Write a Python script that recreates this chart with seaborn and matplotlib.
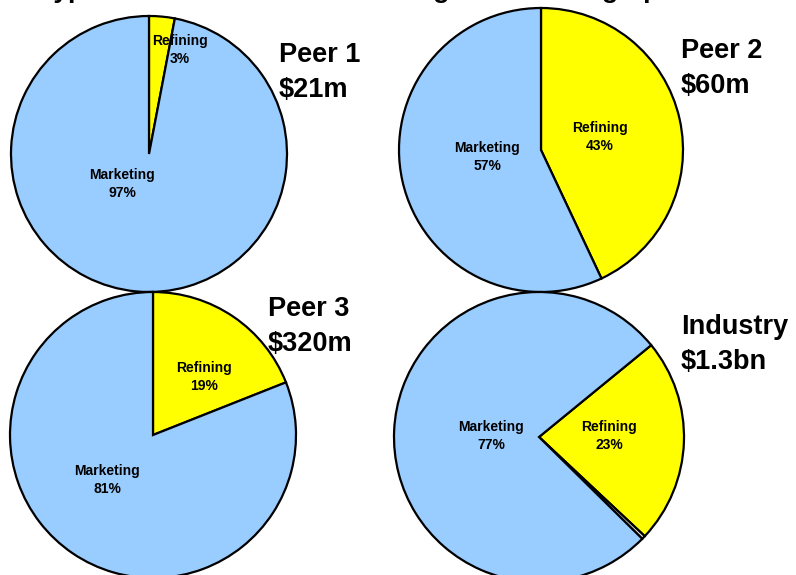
import matplotlib
matplotlib.use("Agg")
import matplotlib.pyplot as plt
import seaborn as sns

sns.set_theme(style="white")
plt.rcParams["font.family"] = ["Liberation Sans", "DejaVu Sans"]

# Spend split per organisation (percent of total IT spend)
peers = ["Peer 1", "Peer 2", "Peer 3", "Industry"]
totals = ["$21m", "$60m", "$320m", "$1.3bn"]
refining = [3, 43, 19, 23]
marketing = [97, 57, 81, 77]
other = [0, 0, 0, 0.4]
segment_names = ["Refining", "Marketing"]

colors = {"Refining": "#FFFF00", "Marketing": "#99CCFF", "Other": "#E8E8E8"}

W, H = 796, 575
fig = plt.figure(figsize=(W / 100, H / 100), dpi=100)

# layout: pie centre (px), radius (px), start angle, title anchor (px),
# label positions in unit-radius coordinates
layout = [
    dict(c=(149, 154), r=138, start=90, title=(279, 62),
         lab={"Refining": (0.225, 0.754), "Marketing": (-0.196, -0.217)}),
    dict(c=(541, 150), r=142, start=90, title=(681, 58),
         lab={"Refining": (0.415, 0.092), "Marketing": (-0.38, -0.05)}),
    dict(c=(153, 435), r=143, start=90, title=(268, 316),
         lab={"Refining": (0.357, 0.406), "Marketing": (-0.32, -0.315)}),
    dict(c=(539, 437), r=145, start=39.3, title=(681, 334),
         lab={"Refining": (0.483, 0.007), "Marketing": (-0.33, 0.007)}),
]

for i, name in enumerate(peers):
    L = layout[i]
    cx, cy = L["c"]
    r = L["r"]
    ax = fig.add_axes([(cx - r) / W, (H - cy - r) / H, 2 * r / W, 2 * r / H])
    vals = [refining[i], other[i], marketing[i]]
    cols = [colors["Refining"], colors["Other"], colors["Marketing"]]
    keep = [(v, c) for v, c in zip(vals, cols) if v > 0]
    ax.pie([v for v, _ in keep], colors=[c for _, c in keep],
           startangle=L["start"], counterclock=False, radius=1,
           wedgeprops=dict(edgecolor="black", linewidth=1.6))
    ax.set_xlim(-1, 1)
    ax.set_ylim(-1, 1)
    ax.set_aspect("auto")
    ax.axis("off")
    for seg, v in zip(segment_names, [refining[i], marketing[i]]):
        x, y = L["lab"][seg]
        ax.text(x, y, f"{seg}\n{v:g}%", ha="center", va="center",
                fontsize=10, fontweight="bold", linespacing=1.3,
                color="black")
    tx, ty = L["title"]
    fig.text(tx / W, 1 - ty / H, name, fontsize=19.5, fontweight="bold",
             ha="left", va="baseline", color="black")
    fig.text(tx / W, 1 - (ty + 35) / H, totals[i], fontsize=19.5,
             fontweight="bold", ha="left", va="baseline", color="black")

# chart heading, sitting just above the top edge
fig.text(10 / W, 1 + 2 / H, "1. Typical IT Cost Profile – Refining vs Marketing Spend",
         fontsize=19, fontweight="bold", ha="left", va="baseline", color="black")

fig.savefig("out.png", dpi=100)
